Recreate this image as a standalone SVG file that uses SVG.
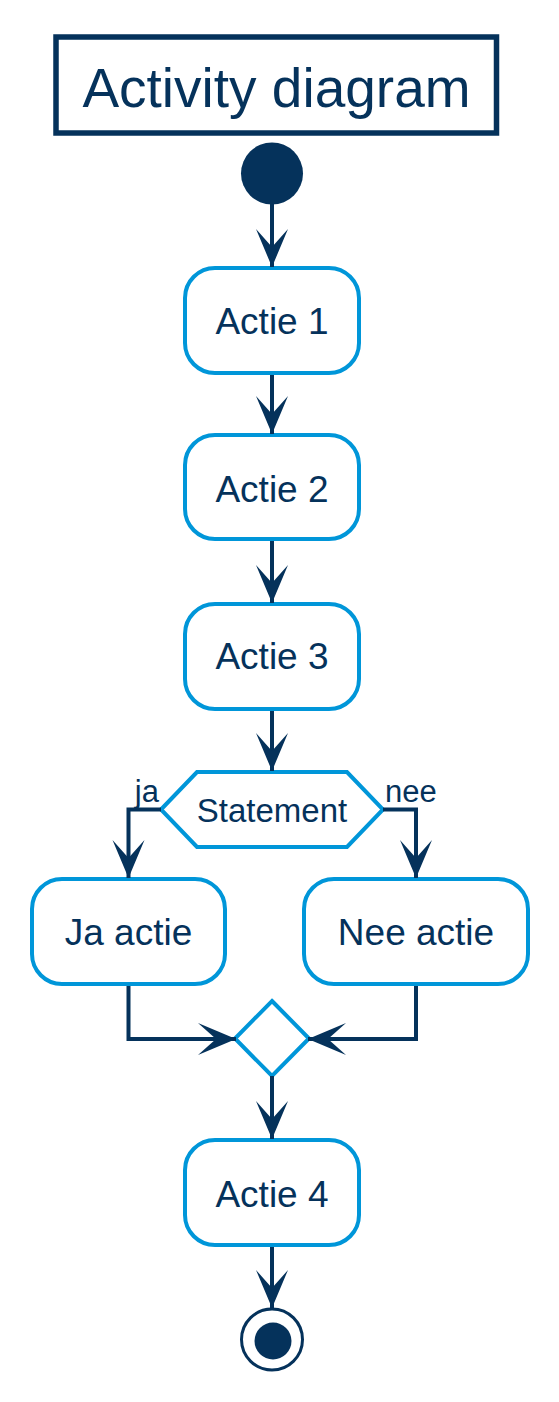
<svg xmlns="http://www.w3.org/2000/svg" width="559" height="1402" viewBox="0 0 559 1402">
<defs>
<style>
.box{fill:#fff;stroke:#0096D9;stroke-width:4}
.lbl{font-family:"Liberation Sans",Arial,sans-serif;fill:#05325B;text-anchor:middle}
.act{font-size:37px}
.edge{fill:none;stroke:#05325B;stroke-width:4}
.elbl{font-family:"Liberation Sans",Arial,sans-serif;fill:#05325B;font-size:31px}
</style>
<marker id="arr" markerUnits="userSpaceOnUse" viewBox="-45 -20 50 40" markerWidth="50" markerHeight="40" refX="0" refY="0" orient="auto">
<path d="M0,0 L-38,-16 L-20,0 L-38,16 Z" fill="#05325B"/>
</marker>
</defs>
<rect width="559" height="1402" fill="#fff"/>
<g id="title">
<rect x="56" y="37" width="440.5" height="96" fill="#fff" stroke="#05325B" stroke-width="5.5"/>
<text class="lbl" x="276.5" y="107" font-size="55">Activity diagram</text>
</g>
<g id="start"><circle cx="272" cy="173.5" r="31" fill="#05325B"/></g>
<g id="actie1"><rect class="box" x="185" y="268" width="174" height="105" rx="30"/><text class="lbl act" x="272" y="334">Actie 1</text></g>
<g id="actie2"><rect class="box" x="185" y="435" width="174" height="104" rx="30"/><text class="lbl act" x="272" y="502">Actie 2</text></g>
<g id="actie3"><rect class="box" x="185" y="604" width="174" height="105" rx="30"/><text class="lbl act" x="272" y="669">Actie 3</text></g>
<g id="statement"><polygon class="box" points="161,809.5 197,772 347,772 383,809.5 347,847 197,847"/><text class="lbl" x="272" y="821.5" font-size="33">Statement</text></g>
<g id="ja-actie"><rect class="box" x="32" y="879" width="193" height="105" rx="30"/><text class="lbl act" x="128.5" y="945">Ja actie</text></g>
<g id="nee-actie"><rect class="box" x="304" y="879" width="224" height="105" rx="30"/><text class="lbl act" x="416" y="945">Nee actie</text></g>
<g id="merge"><polygon class="box" points="272,1001 309,1038.5 272,1076 235,1038.5"/></g>
<g id="actie4"><rect class="box" x="185" y="1140" width="174" height="105" rx="30"/><text class="lbl act" x="272" y="1206.5">Actie 4</text></g>
<g id="end"><circle cx="272" cy="1339.5" r="30.5" fill="#fff" stroke="#05325B" stroke-width="3"/><circle cx="273" cy="1341" r="18.5" fill="#05325B"/></g>
<g id="connectors">
<path class="edge" d="M272,204 V267" marker-end="url(#arr)"/>
<path class="edge" d="M272,375 V434" marker-end="url(#arr)"/>
<path class="edge" d="M272,541 V603" marker-end="url(#arr)"/>
<path class="edge" d="M272,711 V771" marker-end="url(#arr)"/>
<path class="edge" d="M161,809.5 H128.5 V878" marker-end="url(#arr)"/>
<path class="edge" d="M383,809.5 H416 V878" marker-end="url(#arr)"/>
<path class="edge" d="M128.5,986 V1039 H236" marker-end="url(#arr)"/>
<path class="edge" d="M416,986 V1039 H308" marker-end="url(#arr)"/>
<path class="edge" d="M272,1076 V1139" marker-end="url(#arr)"/>
<path class="edge" d="M272,1247 V1308" marker-end="url(#arr)"/>
<text class="elbl" x="159" y="802" text-anchor="end">ja</text>
<text class="elbl" x="385" y="802">nee</text>
</g>
</svg>
